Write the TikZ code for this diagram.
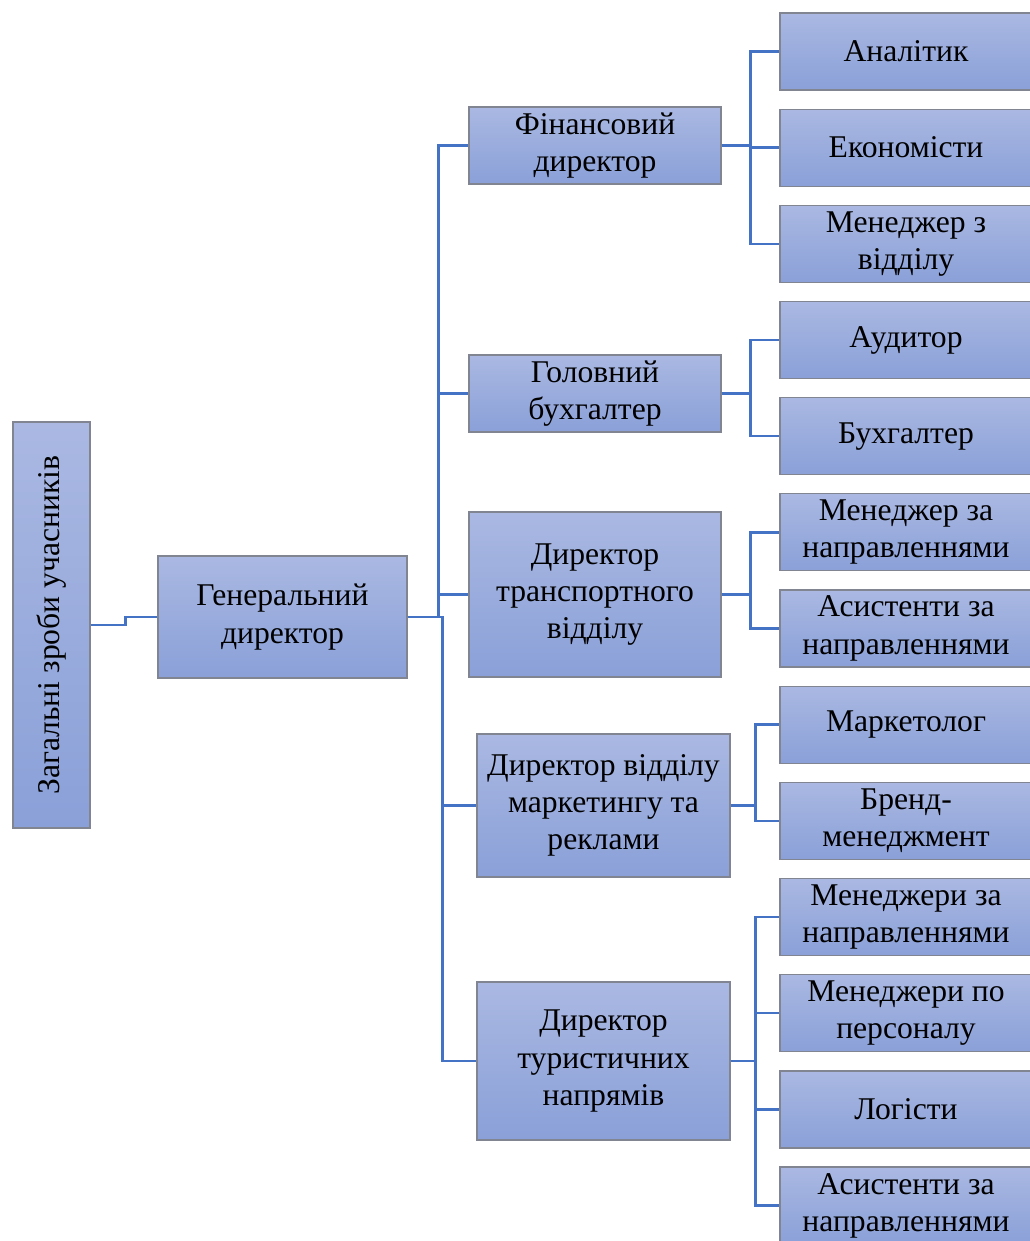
\documentclass[tikz,border=0pt]{standalone}
\usepackage{fontspec}
\setmainfont{Liberation Serif}
\usetikzlibrary{positioning}
\definecolor{boxtop}{RGB}{170, 184, 226}
\definecolor{boxbot}{RGB}{138, 160, 216}
\definecolor{boxline}{RGB}{128, 133, 145}
\definecolor{linkblue}{RGB}{68, 114, 196}

\begin{document}
\begin{tikzpicture}[
          x=0.025cm, y=-0.025cm,
          node distance=0.447cm,
          box/.style={draw=boxline, line width=0.9pt, top color=boxtop, bottom color=boxbot,
                      minimum width=6.3cm, minimum height=1.925cm, inner sep=2pt,
                      font=\fontsize{22.5}{26.5}\selectfont, align=center},
          leaf/.style={box, minimum width=6.3cm},
          link/.style={line width=1.8pt, color=linkblue},
        ]
        \useasboundingbox (0,0) rectangle (1030,1241);

        \node[box, minimum width=10.15cm, rotate=90] (all) at (51.5,625) {Загальні зроби учасників};
        \node[box, minimum width=6.225cm, minimum height=3.05cm] (gen) at (282.5,617) {Генеральний\\директор};

        \node[box] (fin) at (595,145.5) {Фінансовий\\директор};
        \node[box] (buh) at (595,393.5) {Головний\\бухгалтер};
        \node[box, minimum height=4.125cm] (tra) at (595,594.5) {Директор\\транспортного\\відділу};
        \node[box, minimum width=6.325cm, minimum height=3.575cm] (mar) at (603.5,805.5) {Директор відділу\\маркетингу та\\реклами};
        \node[box, minimum width=6.325cm, minimum height=3.95cm] (tur) at (603.5,1061) {Директор\\туристичних\\напрямів};

        \node[leaf] (an)  at (906,51.5)  {Аналітик};
        \node[leaf, below=of an]  (ek)  {Економісти};
        \node[leaf, below=of ek]  (mv)  {Менеджер з\\відділу};
        \node[leaf, below=of mv]  (aud) {Аудитор};
        \node[leaf, below=of aud] (bh)  {Бухгалтер};
        \node[leaf, below=of bh]  (mn)  {Менеджер за\\направленнями};
        \node[leaf, below=of mn]  (asn) {Асистенти за\\направленнями};
        \node[leaf, below=of asn] (mk)  {Маркетолог};
        \node[leaf, below=of mk]  (br)  {Бренд-\\менеджмент};
        \node[leaf, below=of br]  (mzn) {Менеджери за\\направленнями};
        \node[leaf, below=of mzn] (mp)  {Менеджери по\\персоналу};
        \node[leaf, below=of mp]  (lg)  {Логісти};
        \node[leaf, below=of lg]  (as2) {Асистенти за\\направленнями};

        \draw[link] (all.south) -- ++(35,0) |- (gen.west);

        \foreach \d in {fin,buh,tra}
          \draw[link] (gen.east) -- ++(31,0) |- (\d.west);
        \foreach \d in {mar,tur}
          \draw[link] (gen.east) -- ++(35,0) |- (\d.west);

        \foreach \c in {an,ek,mv}
          \draw[link] (fin.east) -- ++(29,0) |- (\c.west);
        \foreach \c in {aud,bh}
          \draw[link] (buh.east) -- ++(29,0) |- (\c.west);
        \foreach \c in {mn,asn}
          \draw[link] (tra.east) -- ++(29,0) |- (\c.west);
        \foreach \c in {mk,br}
          \draw[link] (mar.east) -- ++(25,0) |- (\c.west);
        \foreach \c in {mzn,mp,lg,as2}
          \draw[link] (tur.east) -- ++(25,0) |- (\c.west);
      \end{tikzpicture}
\end{document}
